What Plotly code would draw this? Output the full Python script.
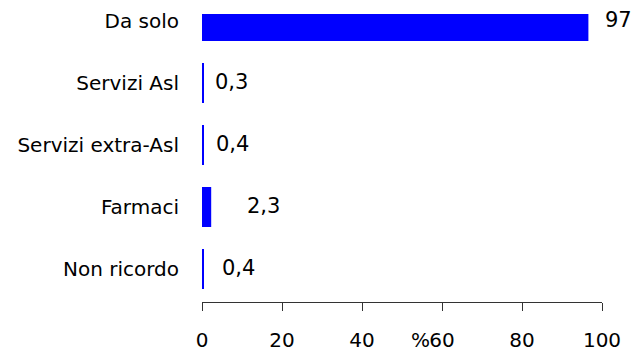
import plotly.graph_objects as go

categories = ["Da solo", "Servizi Asl", "Servizi extra-Asl", "Farmaci", "Non ricordo"]
values = [96.6, 0.3, 0.4, 2.3, 0.4]
value_labels = ["97", "0,3", "0,4", "2,3", "0,4"]
x_ticks = [0, 20, 40, 60, 80, 100]

# style: horizontal offsets of the value labels (px)
label_shift = [15, 10, 10, 34, 16]

FONT = "DejaVu Sans, Liberation Sans, Arial, sans-serif"

fig = go.Figure(go.Bar(
    y=categories, x=values, orientation="h",
    marker=dict(color="#0000ff", line=dict(width=0)),
    width=0.645, hoverinfo="skip",
))

for c, v, t, s in zip(categories, values, value_labels, label_shift):
    fig.add_annotation(x=v, y=c, xref="x", yref="y", text=t, showarrow=False,
                       xanchor="left", yanchor="middle", xshift=s, yshift=1,
                       font=dict(family=FONT, size=21, color="#000000"))

fig.add_annotation(x=54.5, y=0, xref="x", yref="paper", text="%", showarrow=False,
                   xanchor="center", yanchor="top", yshift=-24,
                   font=dict(family=FONT, size=20, color="#000000"))

fig.update_layout(
    width=635, height=352,
    margin=dict(l=202, r=33, t=14, b=50),
    paper_bgcolor="white", plot_bgcolor="white",
    showlegend=False,
    font=dict(family=FONT, size=20, color="#000000"),
    xaxis=dict(range=[0, 100], tickvals=x_ticks, ticks="outside", ticklen=8,
               tickcolor="#333333", showline=True, linecolor="#333333", linewidth=1,
               showgrid=False, zeroline=False, tickfont=dict(size=20),
               ticklabelstandoff=12, fixedrange=True, automargin=False),
    yaxis=dict(type="category", categoryorder="array", categoryarray=categories,
               range=[4.532, -0.113], showgrid=False, zeroline=False, showline=False,
               ticks="", ticklabelstandoff=22, tickfont=dict(size=20), fixedrange=True,
               automargin=False),
)

fig.write_html("out.html", config={"displayModeBar": False},
               post_script="document.body.style.margin='0';")
